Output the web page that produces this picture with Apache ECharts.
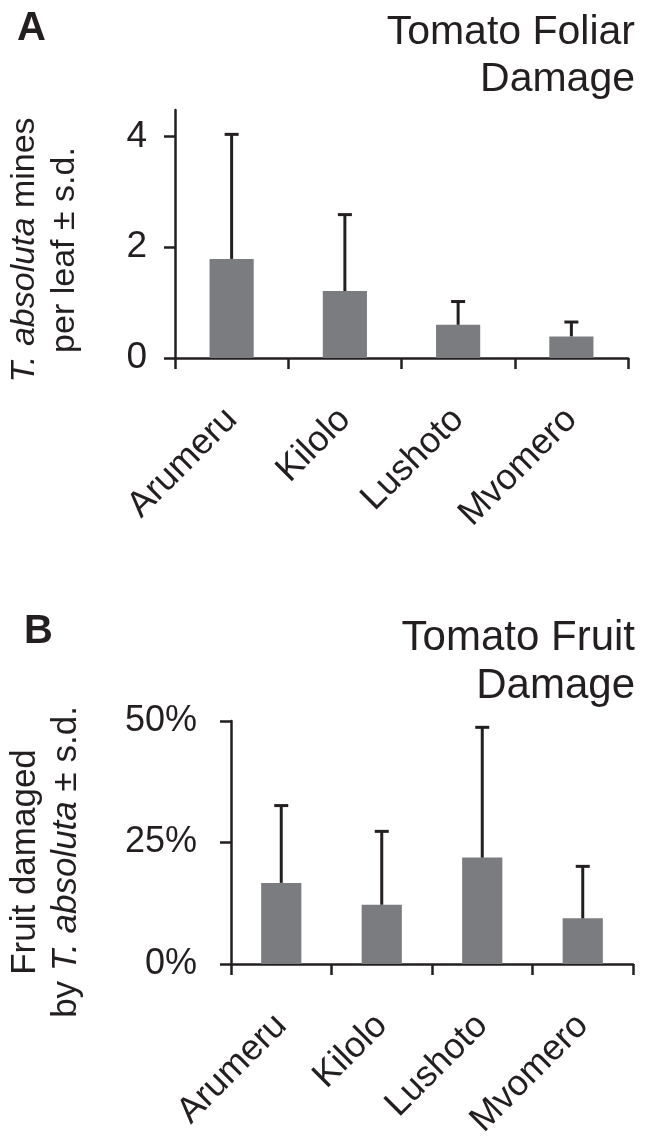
<!DOCTYPE html>
<html>
<head>
<meta charset="utf-8">
<script src="https://cdn.jsdelivr.net/npm/echarts@6/dist/echarts.min.js"></script>
<style>
html,body{margin:0;padding:0;background:#fff;}
#chart{width:649px;height:1141px;}
</style>
</head>
<body>
<div id="chart"></div>
<script>
// ---- data ----
const sites = ['Arumeru', 'Kilolo', 'Lushoto', 'Mvomero'];
// Panel A: T. absoluta mines per leaf
const foliarMean = [1.79, 1.21, 0.60, 0.39];
const foliarUpper = [4.04, 2.59, 1.02, 0.65];   // mean + s.d.
const foliarTicks = [0, 2, 4];
// Panel B: fruit damaged (%)
const fruitMean = [16.7, 12.2, 21.9, 9.4];
const fruitUpper = [32.6, 27.3, 48.7, 20.1];    // mean + s.d.
const fruitTicks = [0, 25, 50];

const INK = '#231f20';
const BAR = '#7b7c7f';
const FONT = "'Liberation Sans', Arial, Helvetica, sans-serif";

function errData(upper, mean) {
  return mean.map((m, i) => [i, m, upper[i]]);
}
function errRender(params, api) {
  const b = api.coord([api.value(0), api.value(1)]);
  const t = api.coord([api.value(0), api.value(2)]);
  const half = 7;
  const st = { stroke: INK, lineWidth: 3 };
  return {
    type: 'group',
    children: [
      { type: 'line', shape: { x1: b[0], y1: b[1], x2: t[0], y2: t[1] }, style: st },
      { type: 'line', shape: { x1: t[0] - half, y1: t[1], x2: t[0] + half, y2: t[1] }, style: st }
    ]
  };
}

function catAxis(gi, margin) {
  return {
    type: 'category', gridIndex: gi, data: sites, boundaryGap: true,
    axisLine: { lineStyle: { color: INK, width: 2.5 } },
    axisTick: { show: true, inside: false, length: 11, interval: 0, lineStyle: { color: INK, width: 2.5 } },
    axisLabel: { show: true, interval: 0, rotate: 45, margin: margin, fontSize: 36, color: INK, fontFamily: FONT }
  };
}

const chart = echarts.init(document.getElementById('chart'), null, { renderer: 'canvas' });
chart.setOption({
  backgroundColor: '#fff',
  animation: false,
  textStyle: { fontFamily: FONT, color: INK },
  grid: [
    { left: 175, top: 110, width: 453, height: 248 },   // A
    { left: 231, top: 721, width: 402, height: 249 }    // B
  ],
  xAxis: [ catAxis(0, 56), catAxis(1, 56) ],
  yAxis: [
    { type: 'value', gridIndex: 0, min: 0, max: 4.48,
      axisLine: { show: true, lineStyle: { color: INK, width: 2.5 } },
      axisTick: { show: true, length: 11, customValues: foliarTicks, lineStyle: { color: INK, width: 2.5 } },
      axisLabel: { customValues: foliarTicks, fontSize: 37, color: INK, margin: 28, fontFamily: FONT },
      splitLine: { show: false } },
    { type: 'value', gridIndex: 1, min: 0, max: 50,
      axisLine: { show: true, lineStyle: { color: INK, width: 2.5 } },
      axisTick: { show: true, length: 11, customValues: fruitTicks, lineStyle: { color: INK, width: 2.5 } },
      axisLabel: { customValues: fruitTicks, formatter: '{value}%', fontSize: 36, color: INK, margin: 34, fontFamily: FONT },
      splitLine: { show: false } }
  ],
  series: [
    { type: 'bar', xAxisIndex: 0, yAxisIndex: 0, data: foliarMean, barWidth: '39%',
      itemStyle: { color: BAR }, z: 2 },
    { type: 'custom', xAxisIndex: 0, yAxisIndex: 0, data: errData(foliarUpper, foliarMean),
      renderItem: errRender, z: 3 },
    { type: 'bar', xAxisIndex: 1, yAxisIndex: 1, data: fruitMean, barWidth: '40%',
      itemStyle: { color: BAR }, z: 2 },
    { type: 'custom', xAxisIndex: 1, yAxisIndex: 1, data: errData(fruitUpper, fruitMean),
      renderItem: errRender, z: 3 }
  ],
  graphic: [
    { type: 'text', left: 17, top: 9, style: { text: 'A', font: "bold 40px " + FONT, fill: INK } },
    { type: 'text', left: 24, top: 612, style: { text: 'B', font: "bold 40px " + FONT, fill: INK } },
    { type: 'text', x: 635, y: 9, style: { text: 'Tomato Foliar\nDamage', font: "41px " + FONT, fill: INK, align: 'right', verticalAlign: 'top', lineHeight: 47 } },
    { type: 'text', x: 635, y: 614, style: { text: 'Tomato Fruit\nDamage', font: "42px " + FONT, fill: INK, align: 'right', verticalAlign: 'top', lineHeight: 48 } },
    { type: 'text', x: 45, y: 250, rotation: Math.PI / 2,
      style: { text: '{i|T. absoluta} mines\nper leaf ± s.d.', align: 'center', verticalAlign: 'middle',
        font: "34px " + FONT, fill: INK, lineHeight: 40,
        rich: { i: { fontStyle: 'italic', fontSize: 34, fontFamily: FONT, fill: INK, lineHeight: 40 } } } },
    { type: 'text', x: 46, y: 862, rotation: Math.PI / 2,
      style: { text: 'Fruit damaged\nby {i|T. absoluta} ± s.d.', align: 'center', verticalAlign: 'middle',
        font: "35px " + FONT, fill: INK, lineHeight: 41,
        rich: { i: { fontStyle: 'italic', fontSize: 35, fontFamily: FONT, fill: INK, lineHeight: 41 } } } }
  ]
});
</script>
</body>
</html>
